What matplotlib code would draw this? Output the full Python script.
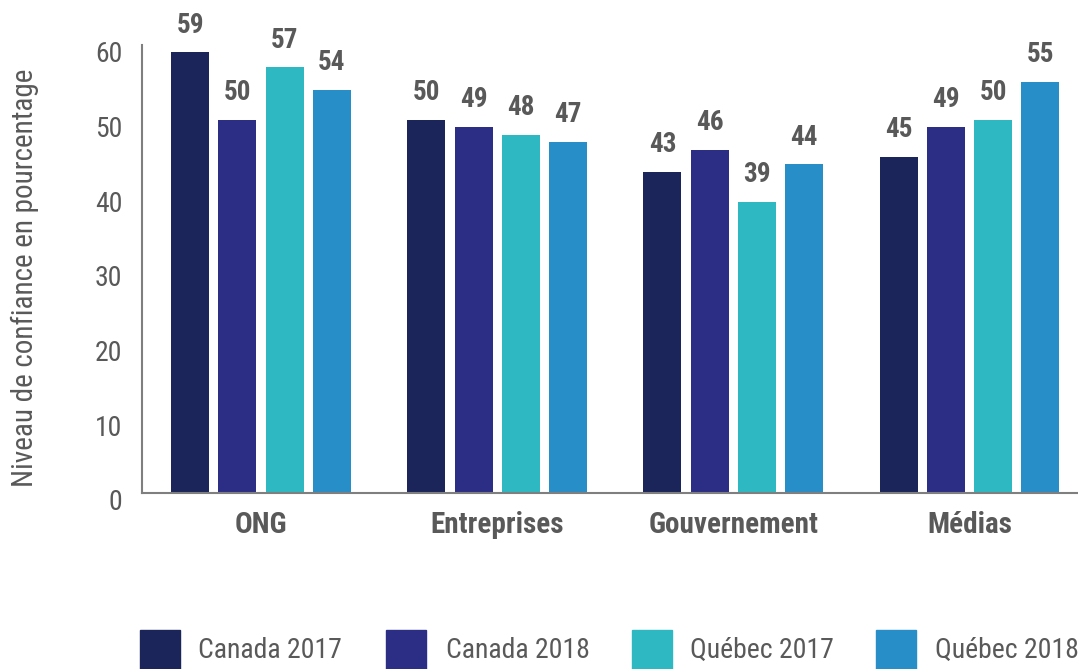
import matplotlib
matplotlib.use("Agg")
import matplotlib.pyplot as plt
import matplotlib.transforms as mtransforms
from matplotlib import font_manager as fm
from matplotlib.patches import Rectangle
import numpy as np

categories = ["ONG", "Entreprises", "Gouvernement", "Médias"]
series_names = ["Canada 2017", "Canada 2018", "Québec 2017", "Québec 2018"]
canada_2017 = [59, 50, 43, 45]
canada_2018 = [50, 49, 46, 49]
quebec_2017 = [57, 48, 39, 50]
quebec_2018 = [54, 47, 44, 55]
series_values = [canada_2017, canada_2018, quebec_2017, quebec_2018]
colors = ["#1B2559", "#2C2E86", "#2EB8C2", "#288EC8"]
yticks = [0, 10, 20, 30, 40, 50, 60]
ylabel = "Niveau de confiance en pourcentage"

# find a condensed font if any
found = []
for f in fm.fontManager.ttflist:
    if ("Narrow" in f.name or "Condensed" in f.name or
            str(f.stretch) in ("condensed", "semi-condensed", "extra-condensed")):
        found.append((f.name, f.stretch))
fam = "Liberation Sans"
stretch = "normal"
for pref in ["Liberation Sans Narrow", "Arial Narrow", "Roboto Condensed", "Open Sans Condensed"]:
    if any(n == pref for n, s in found):
        fam = pref
        break
else:
    for n, s in found:
        if n == "DejaVu Sans":
            fam, stretch = "DejaVu Sans", s
            break
plt.rcParams["font.family"] = [fam, "DejaVu Sans"]
plt.rcParams["font.stretch"] = stretch
TXT = "#595959"

fig = plt.figure(figsize=(10.78, 6.69), dpi=100)
ax = fig.add_axes([142/1078, (669-493)/669, 1 - 142/1078, (493-45)/669])

x = np.arange(len(categories))
step = 0.2
width = 0.161
for i, (vals, col) in enumerate(zip(series_values, colors)):
    pos = x + (i - 1.5) * step
    ax.bar(pos, vals, width=width, color=col, zorder=2)
    for p, v in zip(pos, vals):
        ax.annotate(f"{v}", (p, v), xytext=(0, 10), textcoords="offset points",
                    ha="center", va="bottom", fontsize=19.5, fontweight="bold",
                    color=TXT)

ax.set_xlim(-0.504, 3.46)
ax.set_ylim(0, 60)
ax.set_yticks(yticks)
ax.set_yticklabels([str(t) for t in yticks])
ax.tick_params(axis="y", length=0, labelsize=20, labelcolor=TXT, pad=14)
offset = mtransforms.ScaledTranslation(0, -7/100, fig.dpi_scale_trans)
for lab in ax.get_yticklabels():
    lab.set_transform(lab.get_transform() + offset)
ax.set_xticks(x)
ax.set_xticklabels(categories)
ax.tick_params(axis="x", length=0, labelsize=21, labelcolor=TXT, pad=13)
for lab in ax.get_xticklabels():
    lab.set_fontweight("bold")

for s in ["top", "right"]:
    ax.spines[s].set_visible(False)
for s in ["left", "bottom"]:
    ax.spines[s].set_color("#7F7F7F")
    ax.spines[s].set_linewidth(1.5)

fig.text(25/1078, 1 - 278/669, ylabel, rotation=90, ha="center", va="center",
         fontsize=21, color=TXT)

# legend
sq_x = [140, 386, 632, 876]
tx_x = [198, 446, 690, 935]
for name, col, sx, tx in zip(series_names, colors, sq_x, tx_x):
    fig.patches.append(Rectangle((sx/1078, 0), 40/1078, 39/669, transform=fig.transFigure,
                                 color=col, figure=fig))
    fig.text(tx/1078, 1 - 650/669, name, ha="left", va="center", fontsize=20, color=TXT)

fig.savefig("out.png", dpi=100)
